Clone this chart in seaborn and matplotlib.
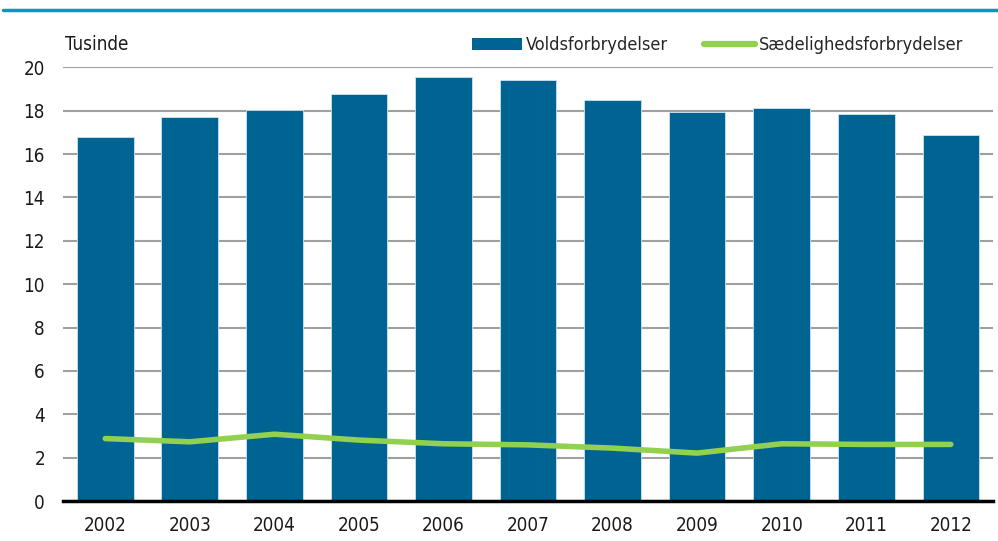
import matplotlib
matplotlib.use('Agg')
import matplotlib.pyplot as plt
import seaborn as sns
import numpy as np
import pandas as pd
from matplotlib.lines import Line2D
from matplotlib.patches import Patch

# data (tusinde)
years = ['2002', '2003', '2004', '2005', '2006', '2007', '2008', '2009', '2010', '2011', '2012']
volds = [16.8, 17.7, 18.05, 18.77, 19.55, 19.4, 18.48, 17.95, 18.11, 17.83, 16.86]
saedelig = [2.88, 2.73, 3.08, 2.81, 2.64, 2.59, 2.44, 2.21, 2.64, 2.61, 2.61]

BAR_COLOR = '#006493'
LINE_COLOR = '#92D050'

sns.set_style('white')
plt.rcParams['font.family'] = ['DejaVu Sans']
plt.rcParams['font.stretch'] = 'condensed'

df = pd.DataFrame({'year': years, 'volds': volds, 'saedelig': saedelig})

fig = plt.figure(figsize=(9.98, 5.41), dpi=100)
ax = fig.add_axes([0.0631, 0.0739, 0.932, 0.8017])

sns.barplot(data=df, x='year', y='volds', color=BAR_COLOR, saturation=1,
            width=0.67, edgecolor='#cfe3ee', linewidth=0.6, ax=ax, zorder=2)
sns.lineplot(x=np.arange(len(years)), y=df['saedelig'], color=LINE_COLOR,
             linewidth=4.0, ax=ax, zorder=3, solid_capstyle='round')

ax.set_ylim(0, 20)
ax.set_xlim(-0.5, len(years) - 0.5)
ax.set_yticks(range(0, 21, 2))
ax.yaxis.grid(True, color='#a0a0a0', linewidth=1.5, zorder=0)
ax.set_axisbelow(True)
ax.set_xlabel('')
ax.set_ylabel('')
for s in ['top', 'right', 'left']:
    ax.spines[s].set_visible(False)
ax.spines['bottom'].set_color('black')
ax.spines['bottom'].set_linewidth(2.5)
ax.spines['bottom'].set_zorder(4)
ax.tick_params(axis='both', length=0, labelsize=13.5, colors='#1a1a1a')
ax.tick_params(axis='y', pad=13)
ax.tick_params(axis='x', pad=11)

# top rule
fig.add_artist(Line2D([0.003, 1.0], [0.9815, 0.9815], color='#0095d5', linewidth=2.5))

fig.text(0.065, 0.917, 'Tusinde', fontsize=13.5, va='center', ha='left', color='#1a1a1a')

handles = [Patch(facecolor=BAR_COLOR, edgecolor='none'),
           Line2D([0], [0], color=LINE_COLOR, linewidth=4.5)]
fig.legend(handles, ['Voldsforbrydelser', 'Sædelighedsforbrydelser'],
           loc='center right', bbox_to_anchor=(0.972, 0.917), ncol=2, frameon=False,
           fontsize=13, handlelength=2.8, handleheight=0.65, handletextpad=0.2,
           columnspacing=2.0, borderaxespad=0)

fig.savefig('out.png', dpi=100)
